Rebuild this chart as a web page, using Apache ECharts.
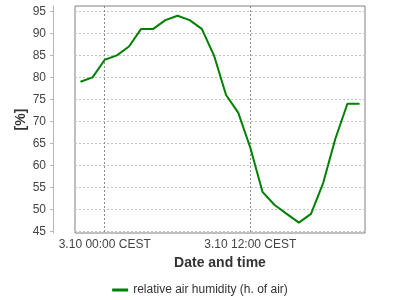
<!DOCTYPE html>
<html>
<head>
<meta charset="utf-8">
<script src="https://cdn.jsdelivr.net/npm/echarts@6/dist/echarts.min.js"></script>
<style>
html,body{margin:0;padding:0;background:#fff;}
#c{width:400px;height:300px;}
</style>
</head>
<body>
<div id="c"></div>
<script>
// hours relative to 3.10 00:00 CEST
var hours = [-2, -1, 0, 1, 2, 3, 4, 5, 6, 7, 8, 9, 10, 11, 12, 13, 14, 15, 16, 17, 18, 19, 20, 21];
var humidity = [79, 80, 84, 85, 87, 91, 91, 93, 94, 93, 91, 85, 76, 72, 64, 54, 51, 49, 47, 49, 56, 66, 74, 74];
var xTickValues = [0, 12];
var xTickLabels = ['3.10 00:00 CEST', '3.10 12:00 CEST'];
var yTickValues = [45, 50, 55, 60, 65, 70, 75, 80, 85, 90, 95];
var seriesName = 'relative air humidity (h. of air)';

var chart = echarts.init(document.getElementById('c'), null, {renderer: 'canvas'});
var FONT = 'Liberation Sans, Arial, sans-serif';
chart.setOption({
  animation: false,
  backgroundColor: '#ffffff',
  grid: {
    left: 75, right: 35, top: 6, bottom: 67,
    show: true, borderColor: '#808080', borderWidth: 1, backgroundColor: 'transparent'
  },
  xAxis: {
    type: 'value',
    min: -2.45, max: 21.45,
    name: 'Date and time',
    nameLocation: 'middle',
    nameGap: 20,
    nameTextStyle: {fontFamily: FONT, fontSize: 14, fontWeight: 'bold', color: '#333'},
    axisLine: {show: false, onZero: false},
    axisTick: {show: false, customValues: xTickValues},
    axisLabel: {
      customValues: xTickValues,
      margin: 6,
      fontFamily: FONT, fontSize: 12, color: '#444',
      formatter: function (v) { return xTickLabels[xTickValues.indexOf(v)]; }
    },
    splitLine: {show: true, lineStyle: {color: '#8a8a8a', type: [2, 2], width: 1}}
  },
  yAxis: {
    type: 'value',
    min: 44.65, max: 96.2,
    offset: 22,
    name: '[%]',
    nameLocation: 'middle',
    nameGap: 25,
    nameMoveOverlap: false,
    nameTextStyle: {fontFamily: FONT, fontSize: 14, fontWeight: 'bold', color: '#333'},
    axisLine: {show: true, onZero: false, lineStyle: {color: '#b8b8b8', width: 1}},
    axisTick: {show: true, inside: false, length: 3, customValues: yTickValues, lineStyle: {color: '#b8b8b8'}},
    axisLabel: {customValues: yTickValues, margin: 7, fontFamily: FONT, fontSize: 12, color: '#444'},
    splitLine: {show: true, lineStyle: {color: '#c4c4c4', type: [2, 2], width: 1}}
  },
  legend: {
    show: true,
    left: 'center',
    top: 279,
    icon: 'rect',
    itemWidth: 16,
    itemHeight: 3,
    itemGap: 10,
    textStyle: {fontFamily: FONT, fontSize: 12, color: '#333'},
    data: [seriesName]
  },
  series: [{
    name: seriesName,
    type: 'line',
    symbol: 'none',
    data: hours.map(function (h, i) { return [h, humidity[i]]; }),
    lineStyle: {color: '#008000', width: 2},
    itemStyle: {color: '#008000'}
  }]
});
</script>
</body>
</html>
